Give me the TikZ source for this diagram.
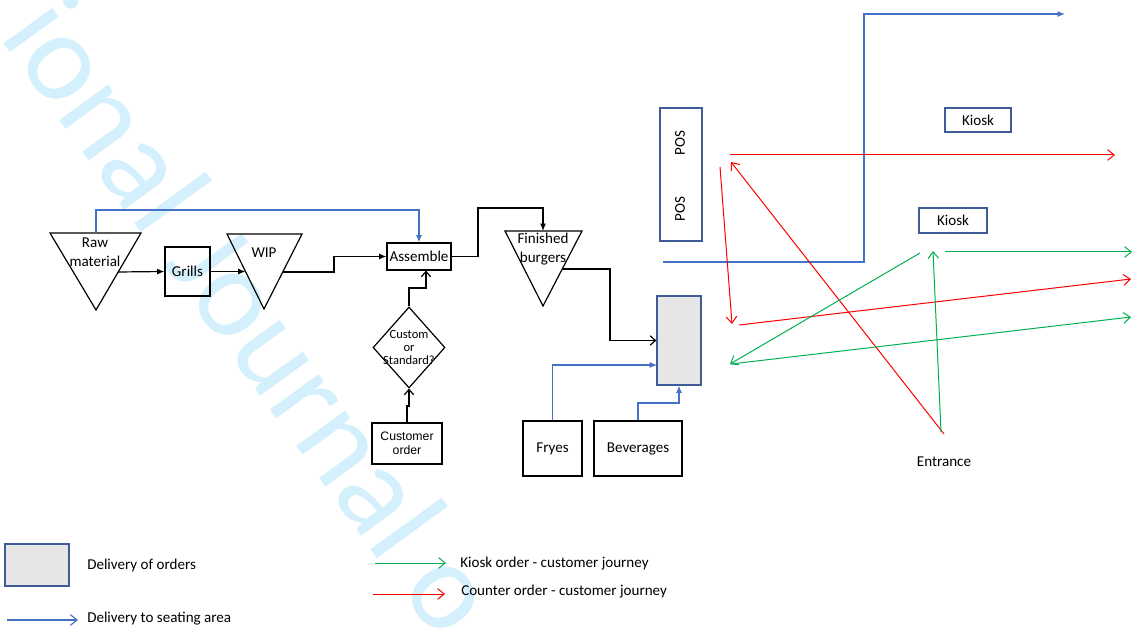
\documentclass[tikz,border=0pt]{standalone}
\usepackage{fontspec}
\setmainfont{Carlito}
\newfontfamily\arialfont{Liberation Sans}
\usetikzlibrary{arrows.meta,shapes.geometric}
\definecolor{lineblue}{RGB}{68,114,196}
\definecolor{boxblue}{RGB}{62,92,150}
\definecolor{kgreen}{RGB}{0,176,80}
\definecolor{cred}{RGB}{255,0,0}
\definecolor{dgrey}{RGB}{230,230,230}
\definecolor{wmark}{RGB}{212,240,252}

\begin{document}
\begin{tikzpicture}[x=0.75pt,y=-0.75pt,
  font=\fontsize{11.3}{14.25}\selectfont,
  shapeline/.style={draw=black, line width=0.9pt, line join=miter},
  blackbox/.style={draw=black, line width=0.9pt, inner sep=0pt},
  bluebox/.style={draw=boxblue, line width=0.9pt, inner sep=0pt},
  greybox/.style={draw=boxblue, fill=dgrey, line width=0.9pt, inner sep=0pt},
  label/.style={inner sep=0pt},
  flow/.style={draw=black, line width=0.9pt, -{Latex[length=5.5pt,width=4.5pt]}},
  flowopen/.style={draw=black, line width=0.9pt, -{Straight Barb[length=4pt,width=7pt]}},
  serve/.style={draw=lineblue, line width=0.9pt, -{Latex[length=5.5pt,width=4.5pt]}},
  serveopen/.style={draw=lineblue, line width=0.9pt, -{Straight Barb[length=5pt,width=8pt]}},
  kioskpath/.style={draw=kgreen, line width=0.75pt, -{Straight Barb[length=5pt,width=8pt]}},
  counterpath/.style={draw=cred, line width=0.75pt, -{Straight Barb[length=5pt,width=8pt]}},
]
\useasboundingbox (0,0) rectangle (1137,630);

% background watermark
\node[text=wmark, font=\fontsize{95}{95}\selectfont, anchor=base west,
      rotate=-54, inner sep=0pt] (wm) at (-2,36) {ional Journal o};

% ---------- kitchen flow ----------
% raw material store
\coordinate (rawTL) at (50,233);
\coordinate (rawTR) at (141,233);
\coordinate (rawB)  at (96,310);
\draw[shapeline] (rawTL) -- (rawTR) -- (rawB) -- cycle;
\node[label, align=center] (rawtxt) at (95,252.5) {Raw\\material};
\coordinate (rawtop) at (96,233);
\coordinate (rawout) at (118,272);

\node[blackbox, minimum width=33.75pt, minimum height=36.75pt] (grills) at (187.5,271.5) {Grills};

% work in progress
\coordinate (wipTL) at (227,234);
\coordinate (wipTR) at (302,234);
\coordinate (wipB)  at (264,309);
\draw[shapeline] (wipTL) -- (wipTR) -- (wipB) -- cycle;
\node[label] (wiptxt) at (264,253) {WIP};
\coordinate (wipin)  at (245.5,271.5);
\coordinate (wipout) at (283,272);
\coordinate (wipjog) at (334,272);

\node[blackbox, minimum width=48pt, minimum height=20.25pt] (assemble) at (419,256.5) {Assemble};

% custom / standard decision
\node[draw=black, line width=0.9pt, diamond, inner sep=0pt,
      minimum width=54pt, minimum height=60.75pt] (diam) at (409,347.5) {};
\node[label, align=center, font=\fontsize{9.4}{9.75}\selectfont] (diamtxt) at (409,347) {Custom\\or\\Standard?};

\node[blackbox, minimum width=52.5pt, minimum height=30.75pt, align=center,
      font=\arialfont\fontsize{9.2}{10.5}\selectfont] (customer) at (407,443.5) {Customer\\order};

% finished burgers store
\coordinate (finTL) at (505,231);
\coordinate (finTR) at (582,231);
\coordinate (finB)  at (543,306);
\draw[shapeline] (finTL) -- (finTR) -- (finB) -- cycle;
\node[label, align=center] (fintxt) at (543,249) {Finished\\burgers};
\coordinate (fintop) at (543,231);
\coordinate (finout) at (563,269);
\coordinate (findrop) at (610,269);
\coordinate (finrise) at (478,208);

\node[greybox, minimum width=33pt, minimum height=66.75pt] (delivery) at (679,340.5) {};
\node[blackbox, minimum width=44.25pt, minimum height=41.25pt] (fryes) at (552.5,448.5) {Fryes};
\node[blackbox, minimum width=66pt, minimum height=41.25pt] (bev) at (638,448.5) {Beverages};
\coordinate (dlvfry) at (657,365);
\coordinate (bevjog) at (679,403);

% kitchen connectors
\draw[flow] (rawout) -- (grills.west);
\draw[flow] (grills.east) -- (wipin);
\draw[flow] (wipout) -- (wipjog) |- (assemble.west);
\coordinate (rawrise) at (96,210);
\draw[serve] (rawtop) -- (rawrise) -| (assemble.north);
\coordinate (asmjog) at (426,288);
\draw[flowopen] (diam.north) |- (asmjog) -- (asmjog |- assemble.south);
\coordinate (custjog) at (409,406);
\draw[flowopen] (customer.north) |- (custjog) -- (diam.south);
\draw[flow] (assemble.east) -| (finrise) -| (fintop);
\draw[flowopen] (finout) -- (findrop) |- (delivery.west);
\draw[serve] (fryes.north) |- (dlvfry);
\draw[serve] (bev.north) |- (bevjog) -- (delivery.south);

% ---------- front of house ----------
\node[bluebox, minimum width=31.5pt, minimum height=99.75pt] (pos) at (681,174.5) {};
\node[label, rotate=90] (pos1) at (680,143) {POS};
\node[label, rotate=90] (pos2) at (680,209) {POS};

\node[bluebox, minimum width=49.5pt, minimum height=18pt] (kiosk1) at (978,120) {Kiosk};
\node[bluebox, minimum width=51pt, minimum height=18.75pt] (kiosk2) at (953,220.5) {Kiosk};
\node[label] (entrance) at (944,462) {Entrance};

% seating area delivery
\coordinate (seatstart) at (663,262);
\coordinate (seatrise) at (864,262);
\coordinate (seatend) at (1065,14);
\draw[serve] (seatstart) -- (seatrise) |- (seatend);

% counter order journey
\coordinate (r1a) at (730,155);  \coordinate (r1b) at (1115,155);
\coordinate (r2a) at (944,434);  \coordinate (r2b) at (731,162);
\coordinate (r3a) at (720,167);  \coordinate (r3b) at (732,324);
\coordinate (r4a) at (739,325);  \coordinate (r4b) at (1131,279);
\draw[counterpath] (r2a) -- (r2b);
\draw[counterpath] (r1a) -- (r1b);
\draw[counterpath] (r3a) -- (r3b);
\draw[counterpath] (r4a) -- (r4b);

% kiosk order journey
\coordinate (g1a) at (941,432);  \coordinate (g1b) at (933,251);
\coordinate (g2a) at (920,253);  \coordinate (g2b) at (730,364);
\coordinate (g3a) at (731,364);  \coordinate (g3b) at (1131,317);
\coordinate (g4a) at (945,252);  \coordinate (g4b) at (1132,252);
\draw[kioskpath] (g1a) -- (g1b);
\draw[kioskpath] (g2a) -- (g2b);
\draw[kioskpath] (g3a) -- (g3b);
\draw[kioskpath] (g4a) -- (g4b);

% ---------- legend ----------
\node[greybox, minimum width=48pt, minimum height=31.5pt] (lgbox) at (37,565) {};
\node[label, anchor=west] (lgboxtxt) at (87,565) {Delivery of orders};
\coordinate (lgbluea) at (7,620);  \coordinate (lgblueb) at (78,620);
\draw[serveopen] (lgbluea) -- (lgblueb);
\node[label, anchor=west] (lgbluetxt) at (87,619) {Delivery to seating area};
\coordinate (lggreena) at (375,563);  \coordinate (lggreenb) at (446,563);
\draw[kioskpath] (lggreena) -- (lggreenb);
\node[label, anchor=west] (lggreentxt) at (460,564) {Kiosk order - customer journey};
\coordinate (lgreda) at (373,594);  \coordinate (lgredb) at (445,594);
\draw[counterpath] (lgreda) -- (lgredb);
\node[label, anchor=west] (lgredtxt) at (461,592) {Counter order - customer journey};
\end{tikzpicture}
\end{document}
